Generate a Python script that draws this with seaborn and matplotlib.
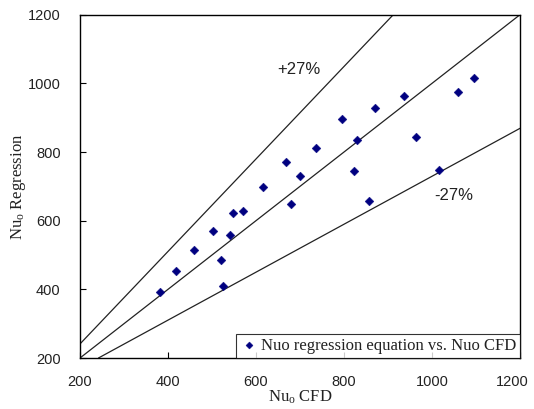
import matplotlib
matplotlib.use("Agg")
import matplotlib.pyplot as plt
import matplotlib.transforms as mtransforms
import seaborn as sns
import pandas as pd

# ---- data ----
nu_cfd = [381, 419, 460, 503, 520, 524, 541, 547, 571, 617, 669, 679, 699, 737,
          796, 823, 829, 857, 870, 936, 964, 1015, 1058, 1095]
nu_reg = [393, 454, 514, 569, 485, 411, 557, 621, 627, 698, 770, 649, 730, 813,
          896, 744, 836, 658, 928, 962, 845, 749, 974, 1015]

# reference lines (end points)
line_equal_x = [200, 1200]
line_equal_y = [200, 1200]
line_plus_x = [200, 912]
line_plus_y = [241, 1200]
line_minus_x = [242, 1200]
line_minus_y = [200, 869]

x_ticks = [200, 400, 600, 800, 1000, 1200]
y_ticks = [200, 400, 600, 800, 1000, 1200]

series_label = "Nuo regression equation vs. Nuo CFD"
x_label = r"Nu$_\mathrm{o}$ CFD"
y_label = r"Nu$_\mathrm{o}$ Regression"
plus_label = "+27%"
minus_label = "-27%"

# ---- plotting ----
sns.set_theme(style="white")
plt.rcParams["font.family"] = ["Liberation Sans", "DejaVu Sans"]
plt.rcParams["mathtext.fontset"] = "custom"
plt.rcParams["mathtext.rm"] = "Liberation Serif"
plt.rcParams["mathtext.it"] = "Liberation Serif:italic"

fig = plt.figure(figsize=(5.34, 4.09), dpi=100)
ax = fig.add_axes([80 / 534, 1 - 358 / 409, 440 / 534, (358 - 14.7) / 409])

for lx, ly in [(line_equal_x, line_equal_y), (line_plus_x, line_plus_y),
               (line_minus_x, line_minus_y)]:
    ax.plot(lx, ly, color="#222222", lw=0.9, zorder=1)

df = pd.DataFrame({"cfd": nu_cfd, "reg": nu_reg})
sns.scatterplot(data=df, x="cfd", y="reg", ax=ax, marker="D", s=20,
                color="#000080", edgecolor="#000080", linewidth=0.3,
                label=series_label, zorder=3)

ax.text(698, 1039, plus_label, fontsize=12, ha="center", va="center",
        color="#222222")
ax.text(1050, 672, minus_label, fontsize=12, ha="center", va="center",
        color="#222222")

ax.set_xlim(200, 1200)
ax.set_ylim(200, 1200)
ax.set_xticks(x_ticks)
ax.set_yticks(y_ticks)
ax.tick_params(axis="both", direction="in", length=4, width=0.8, color="black",
               labelsize=10.5, labelcolor="#222222", bottom=True, left=True)
ax.tick_params(axis="x", pad=12)
ax.tick_params(axis="y", pad=14)

# last x tick label sits slightly left, as in the reference
last_lbl = ax.get_xticklabels()[-1]
last_lbl.set_transform(last_lbl.get_transform() +
                       mtransforms.ScaledTranslation(-8 / 100, 0, fig.dpi_scale_trans))

for sp in ax.spines.values():
    sp.set_color("black")
    sp.set_linewidth(1.0)

ax.set_xlabel(x_label, fontsize=12, family="Liberation Serif", labelpad=0,
              color="#222222")
ax.set_ylabel(y_label, fontsize=12, family="Liberation Serif", labelpad=0,
              color="#222222")

leg = ax.legend(loc="lower right", borderaxespad=0, frameon=True, fancybox=False,
                prop={"family": "Liberation Serif", "size": 12},
                handletextpad=0.2, handlelength=1.0, borderpad=0.25,
                markerscale=0.8)
leg.get_frame().set_edgecolor("black")
leg.get_frame().set_linewidth(0.8)
for t in leg.get_texts():
    t.set_color("#222222")

fig.savefig("out.png", dpi=100, facecolor="white")
